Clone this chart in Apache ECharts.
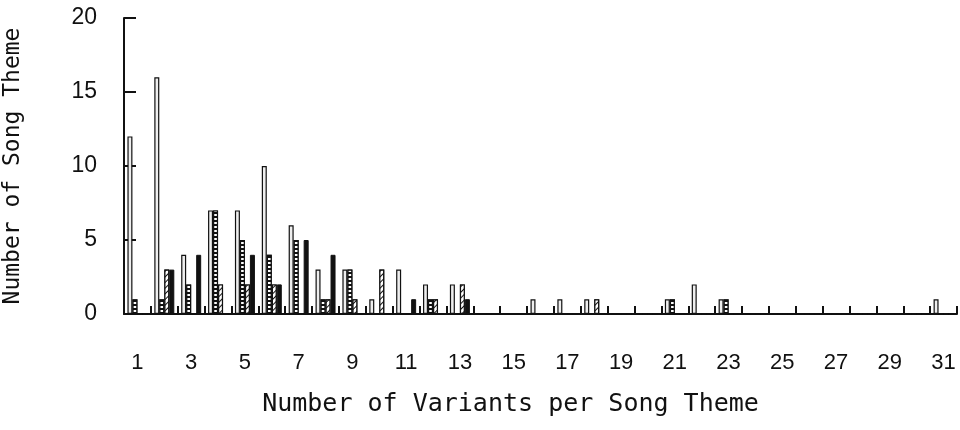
<!DOCTYPE html>
<html lang="en">
  <head>
    <meta charset="UTF-8" />
    <title>Variants per Song Theme</title>
    <script src="https://cdn.jsdelivr.net/npm/echarts@6.0.0/dist/echarts.min.js"></script>
    <style>
      html, body { margin: 0; padding: 0; background: #fff; }
    </style>
  </head>
  <body>
    <div id="chart" style="width: 960px; height: 430px"></div>
    <script>
      // categories: number of variants per song theme
      var variants = []
      for (var i = 1; i <= 31; i++) variants.push(String(i))

      // four series (outlined, ladder, hatched, solid)
      var outlined = [12, 16, 4, 7, 7, 10, 6, 3, 3, 1, 3, 2, 2, 0, 0, 1, 1, 1, 0, 0, 1, 2, 1, 0, 0, 0, 0, 0, 0, 0, 1]
      var ladder   = [1, 1, 2, 7, 5, 4, 5, 1, 3, 0, 0, 1, 0, 0, 0, 0, 0, 0, 0, 0, 1, 0, 1, 0, 0, 0, 0, 0, 0, 0, 0]
      var hatched  = [0, 3, 0, 2, 2, 2, 0, 1, 1, 3, 0, 1, 2, 0, 0, 0, 0, 1, 0, 0, 0, 0, 0, 0, 0, 0, 0, 0, 0, 0, 0]
      var solid    = [0, 3, 4, 0, 4, 2, 5, 4, 0, 0, 1, 0, 1, 0, 0, 0, 0, 0, 0, 0, 0, 0, 0, 0, 0, 0, 0, 0, 0, 0, 0]

      var yTicks = [0, 5, 10, 15, 20]

      var chart = echarts.init(document.getElementById('chart'))

      var barBase = {
        type: 'bar',
        barWidth: 5,
        barGap: '0%',
        animation: false
      }

      var option = {
        backgroundColor: '#fff',
        grid: { left: 124, right: 3, top: 18, bottom: 116, outerBoundsMode: 'none', containLabel: false },
        xAxis: {
          type: 'category',
          data: variants,
          name: 'Number of Variants per Song Theme',
          nameLocation: 'middle',
          nameGap: 78,
          nameTextStyle: {
            fontFamily: 'DejaVu Sans Mono',
            fontSize: 25,
            color: '#111',
            padding: [0, 60, 0, 0]
          },
          axisLine: { lineStyle: { color: '#111', width: 2 } },
          axisTick: { show: true, interval: 0, inside: true, length: 8, lineStyle: { color: '#111', width: 2 } },
          axisLabel: {
            interval: 1,
            margin: 38,
            fontFamily: 'Liberation Sans',
            fontSize: 22,
            color: '#111'
          }
        },
        yAxis: {
          type: 'value',
          min: yTicks[0],
          max: yTicks[yTicks.length - 1],
          interval: 5,
          name: 'Number of Song Theme',
          nameLocation: 'middle',
          nameGap: 99,
          nameTextStyle: {
            fontFamily: 'DejaVu Sans Mono',
            fontSize: 23,
            color: '#111'
          },
          splitLine: { show: false },
          axisLine: { show: true, lineStyle: { color: '#111', width: 2 } },
          axisTick: { show: true, inside: true, length: 12, lineStyle: { color: '#111', width: 2 } },
          axisLabel: {
            margin: 27,
            fontFamily: 'Liberation Sans',
            fontSize: 23,
            color: '#111'
          }
        },
        series: [
          Object.assign({}, barBase, {
            name: 'outlined',
            data: outlined,
            itemStyle: { color: '#eeeeee', borderColor: '#111', borderWidth: 1.2 }
          }),
          Object.assign({}, barBase, {
            name: 'ladder',
            data: ladder,
            itemStyle: {
              color: '#fff',
              borderColor: '#111',
              borderWidth: 1.2,
              decal: {
                symbol: 'rect',
                symbolSize: 1,
                dashArrayX: [1, 0],
                dashArrayY: [2, 2],
                rotation: 0,
                color: '#111',
                backgroundColor: '#fff'
              }
            }
          }),
          Object.assign({}, barBase, {
            name: 'hatched',
            data: hatched,
            itemStyle: {
              color: '#fff',
              borderColor: '#111',
              borderWidth: 1.2,
              decal: {
                symbol: 'rect',
                symbolSize: 1,
                dashArrayX: [1, 0],
                dashArrayY: [1, 3],
                rotation: -Math.PI / 4,
                color: '#111',
                backgroundColor: '#fff'
              }
            }
          }),
          Object.assign({}, barBase, {
            name: 'solid',
            data: solid,
            itemStyle: { color: '#111', borderColor: '#111', borderWidth: 1 }
          })
        ]
      }

      chart.setOption(option)
    </script>
  </body>
</html>
